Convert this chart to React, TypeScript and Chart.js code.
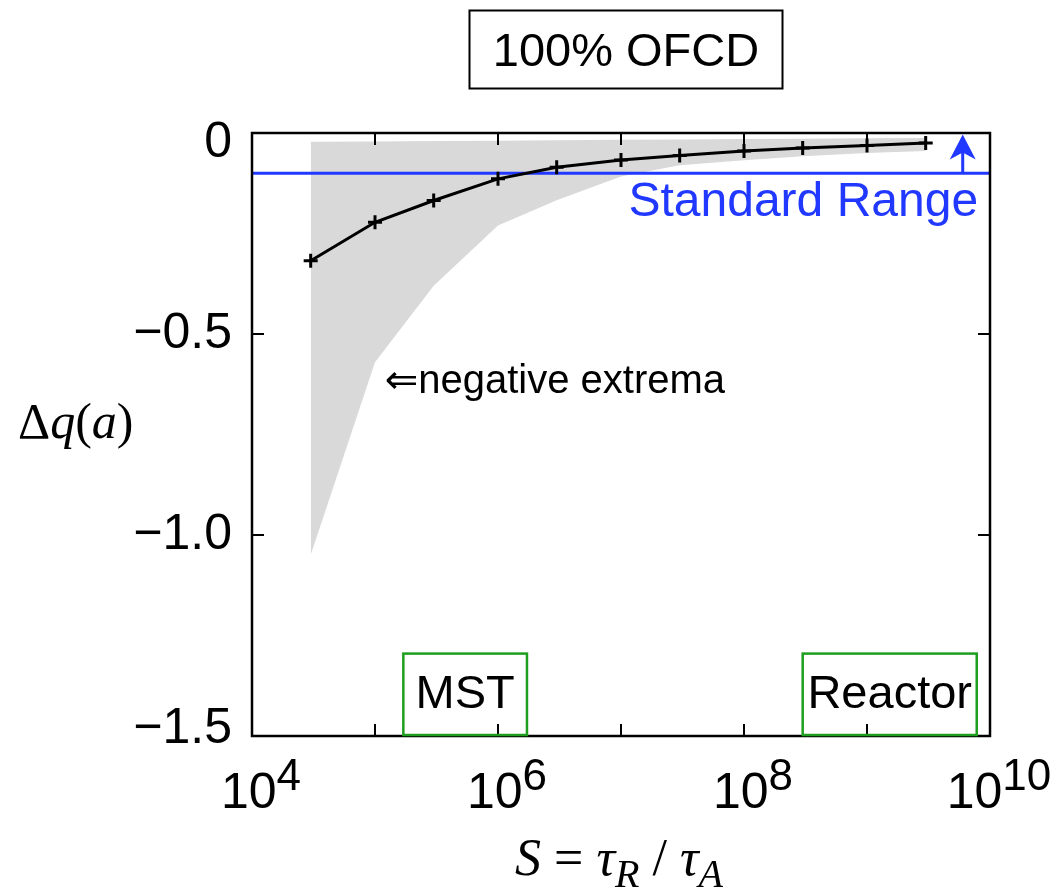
import { useEffect, useRef } from 'react';
import { Chart, registerables } from 'chart.js';

Chart.register(...registerables);

// Lundquist number S = tau_R / tau_A
const S_VALUES = [3e4, 1e5, 3e5, 1e6, 3e6, 1e7, 3e7, 1e8, 3e8, 1e9, 3e9];
// Mean edge safety-factor change
const DELTA_Q = [-0.318, -0.222, -0.168, -0.114, -0.085, -0.067, -0.056, -0.045, -0.0375, -0.031, -0.025];
// Envelope of the oscillation (shaded band)
const BAND_UPPER = [-0.022, -0.021, -0.02, -0.019, -0.018, -0.017, -0.016, -0.015, -0.014, -0.013, -0.0125];
const BAND_LOWER = [-1.05, -0.57, -0.38, -0.23, -0.167, -0.108, -0.08, -0.068, -0.058, -0.05, -0.045];

const STANDARD_LEVEL = -0.1;
const Y_TICKS = [0, -0.5, -1.0, -1.5];
const X_MINOR_EXP = [5, 6, 7, 8, 9];
const X_LABEL_EXP = [4, 6, 8, 10];

// Regime boxes along the S axis
const MST_RANGE = [1.7e5, 1.72e6];
const REACTOR_RANGE = [3.0e8, 7.8e9];
const REGIME_TOP = -1.295;

const SANS = "'Liberation Sans', Arial, Helvetica, 'DejaVu Sans', sans-serif";
const SERIF = "'Liberation Serif', 'Times New Roman', 'DejaVu Serif', serif";
const BLUE = '#2038ff';
const GREEN = '#1e9e1e';
const GREY = '#d9d9d9';

const pts = (ys: number[]) => S_VALUES.map((s, i) => ({ x: s, y: ys[i] }));

function drawPieces(ctx: CanvasRenderingContext2D, pieces: [string, string, number][], x: number, y: number) {
  let cx = x;
  for (const [txt, font, dy] of pieces) {
    ctx.font = font;
    ctx.fillText(txt, cx, y + dy);
    cx += ctx.measureText(txt).width;
  }
  return cx;
}

function piecesWidth(ctx: CanvasRenderingContext2D, pieces: [string, string, number][]) {
  let w = 0;
  for (const [txt, font] of pieces) {
    ctx.font = font;
    w += ctx.measureText(txt).width;
  }
  return w;
}

const decorations = {
  id: 'decorations',
  afterDraw(chart: any) {
    const { ctx, chartArea: a } = chart;
    const x = chart.scales.x;
    const y = chart.scales.y;
    ctx.save();

    // inward tick marks on all four sides
    ctx.strokeStyle = '#000';
    ctx.lineWidth = 2;
    ctx.beginPath();
    for (const e of X_MINOR_EXP) {
      const px = x.getPixelForValue(Math.pow(10, e));
      ctx.moveTo(px, a.bottom);
      ctx.lineTo(px, a.bottom - 12);
      ctx.moveTo(px, a.top);
      ctx.lineTo(px, a.top + 12);
    }
    for (const v of Y_TICKS) {
      const py = y.getPixelForValue(v);
      ctx.moveTo(a.left, py);
      ctx.lineTo(a.left + 12, py);
      ctx.moveTo(a.right, py);
      ctx.lineTo(a.right - 12, py);
    }
    ctx.stroke();

    // frame
    ctx.lineWidth = 2.5;
    ctx.strokeRect(a.left, a.top, a.right - a.left, a.bottom - a.top);

    // y tick labels
    ctx.fillStyle = '#000';
    ctx.font = `50px ${SANS}`;
    ctx.textAlign = 'right';
    ctx.textBaseline = 'middle';
    for (const v of Y_TICKS) {
      const py = Math.min(Math.max(y.getPixelForValue(v), a.top + 10), a.bottom - 7);
      const label = v === 0 ? '0' : '\u2212' + Math.abs(v).toFixed(1);
      ctx.fillText(label, a.left - 20, py);
    }

    // x tick labels (powers of ten)
    ctx.textAlign = 'left';
    ctx.textBaseline = 'alphabetic';
    for (const e of X_LABEL_EXP) {
      const px = x.getPixelForValue(Math.pow(10, e));
      ctx.font = `50px ${SANS}`;
      const wb = ctx.measureText('10').width;
      ctx.font = `44px ${SANS}`;
      const ws = ctx.measureText(String(e)).width;
      const start = px + 9 - (wb + ws) / 2;
      ctx.font = `50px ${SANS}`;
      ctx.fillText('10', start, a.bottom + 72);
      ctx.font = `44px ${SANS}`;
      ctx.fillText(String(e), start + wb, a.bottom + 54);
    }

    // y axis title: Δq(a)
    const up = `50px ${SERIF}`;
    const it = `italic 50px ${SERIF}`;
    drawPieces(ctx, [['\u0394', up, 0], ['q', it, 0], ['(', up, 0], ['a', it, 0], [')', up, 0]], 18, 438);

    // x axis title: S = τR / τA
    const upX = `52px ${SERIF}`;
    const itX = `italic 52px ${SERIF}`;
    const sub = `italic 40px ${SERIF}`;
    const xt: [string, string, number][] = [
      ['S', itX, 0], [' = ', upX, 0], ['\u03c4', itX, 0], ['R', sub, 12],
      [' / ', upX, 0], ['\u03c4', itX, 0], ['A', sub, 12],
    ];
    const tw = piecesWidth(ctx, xt);
    drawPieces(ctx, xt, 619 - tw / 2, 875);

    // title box
    ctx.lineWidth = 2;
    ctx.strokeStyle = '#000';
    ctx.strokeRect(469.5, 10.5, 313, 78);
    ctx.font = `47px ${SANS}`;
    ctx.textAlign = 'center';
    ctx.fillText('100% OFCD', 626, 66);

    // regime boxes
    const regimes: [number[], string][] = [[MST_RANGE, 'MST'], [REACTOR_RANGE, 'Reactor']];
    for (const [range, name] of regimes) {
      const x0 = x.getPixelForValue(range[0]);
      const x1 = x.getPixelForValue(range[1]);
      const yt = y.getPixelForValue(REGIME_TOP);
      const yb = y.getPixelForValue(-1.5);
      ctx.strokeStyle = GREEN;
      ctx.lineWidth = 2.5;
      ctx.strokeRect(x0, yt, x1 - x0, yb - yt - 1);
      ctx.fillStyle = '#000';
      ctx.font = `47px ${SANS}`;
      ctx.textAlign = 'center';
      ctx.fillText(name, (x0 + x1) / 2, yb - 28);
    }

    // annotation of the lower envelope
    ctx.fillStyle = '#000';
    ctx.textAlign = 'left';
    ctx.font = `40px ${SANS}`;
    ctx.fillText('\u21d0negative extrema', x.getPixelForValue(1.2e5), y.getPixelForValue(-0.647));

    // standard range label and arrow
    ctx.fillStyle = BLUE;
    ctx.textAlign = 'right';
    ctx.font = `48px ${SANS}`;
    ctx.fillText('Standard Range', x.getPixelForValue(8e9), y.getPixelForValue(-0.206));

    const ax = x.getPixelForValue(6e9);
    const ay0 = y.getPixelForValue(STANDARD_LEVEL);
    const ay1 = y.getPixelForValue(-0.004);
    ctx.strokeStyle = BLUE;
    ctx.lineWidth = 3;
    ctx.beginPath();
    ctx.moveTo(ax, ay0);
    ctx.lineTo(ax, ay1 + 15);
    ctx.stroke();
    ctx.beginPath();
    ctx.moveTo(ax, ay1);
    ctx.lineTo(ax + 13, ay1 + 25);
    ctx.lineTo(ax, ay1 + 18);
    ctx.lineTo(ax - 13, ay1 + 25);
    ctx.closePath();
    ctx.fill();

    ctx.restore();
  },
};

export default function App() {
  const ref = useRef<HTMLCanvasElement>(null);

  useEffect(() => {
    if (!ref.current) return;
    const chart = new Chart(ref.current, {
      type: 'line',
      data: {
        datasets: [
          {
            label: 'upper envelope',
            data: pts(BAND_UPPER),
            borderWidth: 0,
            pointRadius: 0,
            fill: false,
            tension: 0,
            order: 4,
          },
          {
            label: 'lower envelope',
            data: pts(BAND_LOWER),
            borderWidth: 0,
            pointRadius: 0,
            backgroundColor: GREY,
            fill: '-1',
            tension: 0,
            order: 3,
          },
          {
            label: 'standard range',
            data: [{ x: 1e4, y: STANDARD_LEVEL }, { x: 1e10, y: STANDARD_LEVEL }],
            borderColor: BLUE,
            borderWidth: 3,
            pointRadius: 0,
            fill: false,
            order: 2,
          },
          {
            label: '\u0394q(a)',
            data: pts(DELTA_Q),
            borderColor: '#000',
            borderWidth: 3,
            pointStyle: 'cross',
            pointRadius: 7,
            pointBorderWidth: 3,
            pointBorderColor: '#000',
            pointBackgroundColor: '#000',
            fill: false,
            tension: 0,
            order: 1,
          },
        ],
      },
      options: {
        animation: false,
        responsive: true,
        maintainAspectRatio: false,
        layout: { padding: { left: 0, right: 67, top: 133, bottom: 0 } },
        plugins: {
          legend: { display: false },
          tooltip: { enabled: false },
          title: { display: false },
        },
        scales: {
          x: {
            type: 'logarithmic',
            min: 1e4,
            max: 1e10,
            grid: { display: false },
            border: { display: false },
            ticks: { display: false },
            afterFit: (s: any) => { s.height = 157; },
          },
          y: {
            type: 'linear',
            min: -1.5,
            max: 0,
            grid: { display: false },
            border: { display: false },
            ticks: { display: false, stepSize: 0.5 },
            afterFit: (s: any) => { s.width = 252; },
          },
        },
      },
      plugins: [decorations],
    });
    return () => chart.destroy();
  }, []);

  return (
    <div style={{ position: 'absolute', left: 0, top: 0, width: 1057, height: 893, background: '#fff' }}>
      <canvas ref={ref} />
    </div>
  );
}
